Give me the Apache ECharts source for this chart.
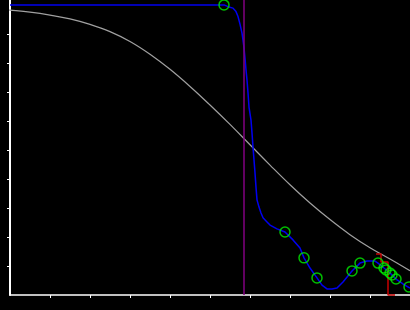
<!DOCTYPE html>
<html><head><meta charset="utf-8">
<script src="https://cdn.jsdelivr.net/npm/echarts@6/dist/echarts.min.js"></script>
<style>html,body{margin:0;padding:0;background:#000}#c{width:410px;height:310px}</style>
</head><body><div id="c"></div>
<script>
// Gray reference curve
const grayX = [-0.25,0,0.5,1.0,1.5,2.0,2.5,3.0,3.5,4.0,4.5,5.0,5.5,6.0,6.5,7.0,7.5,8.0,8.5,9.0,9.5,10.0];
const grayY = [9.85,9.82,9.75,9.65,9.52,9.33,9.08,8.74,8.30,7.78,7.19,6.55,5.88,5.18,4.48,3.80,3.17,2.60,2.08,1.63,1.24,0.84];
// Blue fitted curve
const blueX = [0,5.35,5.45,5.575,5.65,5.70,5.75,5.80,5.825,5.85,5.875,5.90,5.925,5.95,5.975,6.025,6.05,6.075,6.10,6.125,6.15,6.175,6.225,6.275,6.325,6.425,6.50,6.675,6.875,7.075,7.25,7.35,7.50,7.675,7.80,7.925,8.05,8.175,8.325,8.55,8.75,8.925,9.125,9.20,9.35,9.50,9.65,9.825,10.0];
const blueY = [10.0,10.0,9.94,9.89,9.77,9.60,9.34,9.03,8.79,8.52,8.17,7.76,7.41,6.97,6.48,6.03,5.59,5.10,4.66,4.21,3.72,3.28,3.03,2.83,2.66,2.52,2.41,2.28,2.17,1.90,1.62,1.28,0.93,0.59,0.34,0.21,0.21,0.24,0.45,0.83,1.10,1.17,1.17,1.10,0.93,0.76,0.55,0.38,0.24];
// Green marker points
const markX = [5.35,6.875,7.35,7.675,8.55,8.75,9.2,9.35,9.4,9.5,9.55,9.65,9.975];
const markY = [10.0,2.17,1.28,0.59,0.83,1.10,1.10,0.93,0.86,0.76,0.69,0.55,0.28];
// Red step
const redX = [9.15,9.275,9.275,9.45,9.45,9.625];
const redY = [1.41,1.41,1.14,1.14,0,0];
// Vertical purple line position
const vLineX = 5.85;
// Tick values
const xTicks = [1,2,3,4,5,6,7,8,9];
const yTicks = [1,2,3,4,5,6,7,8,9];

const zip = (a,b) => a.map((v,i)=>[v,b[i]]);
const chart = echarts.init(document.getElementById('c'), null, {renderer:'canvas'});
chart.setOption({
  backgroundColor:'#000',
  animation:false,
  grid:{left:10,right:0,top:0,bottom:15},
  xAxis:{type:'value',min:0,max:10,
    axisLine:{onZero:false,lineStyle:{color:'#fff',width:1.5}},
    axisTick:{customValues:xTicks,length:3,lineStyle:{color:'#fff',width:1}},
    axisLabel:{show:false},splitLine:{show:false}},
  yAxis:{type:'value',min:0,max:10.17,
    axisLine:{show:true,onZero:false,lineStyle:{color:'#fff',width:2}},
    axisTick:{show:true,customValues:yTicks,length:3,lineStyle:{color:'#fff',width:1}},
    axisLabel:{show:false},splitLine:{show:false}},
  series:[
    {type:'line',data:zip(grayX,grayY),smooth:0.4,showSymbol:false,clip:false,
     lineStyle:{color:'#a0a0a0',width:1.2},z:2},
    {type:'line',data:zip(blueX,blueY),showSymbol:false,clip:false,
     lineStyle:{color:'#0000f0',width:1.5},z:3,
     markLine:{silent:true,symbol:'none',label:{show:false},
       lineStyle:{color:'#800080',width:1.5,type:'solid'},
       data:[[{coord:[vLineX,0]},{coord:[vLineX,10.17]}]]}},
    {type:'line',data:zip(redX,redY),showSymbol:false,clip:false,
     lineStyle:{color:'#c80000',width:1.5},z:4},
    {type:'scatter',data:zip(markX,markY),symbol:'circle',symbolSize:10,clip:false,
     itemStyle:{color:'rgba(0,0,0,0)',borderColor:'#00ee00',borderWidth:1.5},z:5}
  ]
});
</script></body></html>
